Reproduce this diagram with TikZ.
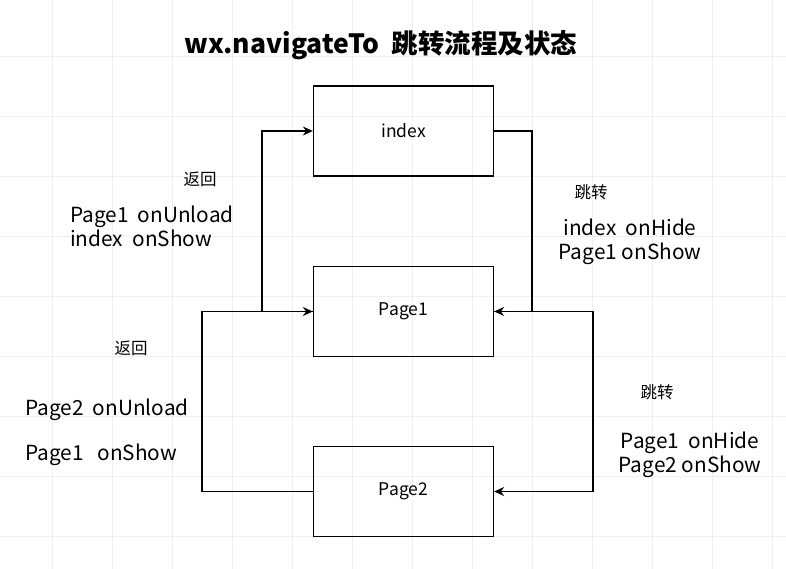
\documentclass[tikz,border=0pt]{standalone}
\usepackage{fontspec}
\setmainfont{Noto Sans CJK SC}
\usetikzlibrary{arrows.meta}
\tikzset{
  pagebox/.style={draw=black, line width=1.3pt, minimum width=180pt, minimum height=90pt, inner sep=0pt, font=\fontsize{17.5}{20}\selectfont},
  conn/.style={draw=black, line width=1.3pt, -{Stealth[length=10pt,width=9pt]}},
  biglabel/.style={inner sep=0pt, font=\fontsize{20.8}{24}\selectfont},
  smalllabel/.style={inner sep=0pt, font=\fontsize{16.5}{19}\selectfont},
  gridline/.style={draw=black!6, line width=0.8pt}
}
\begin{document}
\begin{tikzpicture}[x=1pt, y=-1pt]
\useasboundingbox (0,0) rectangle (786,569);
\fill[white] (0,0) rectangle (786,569);
\foreach \gx in {52,112,...,772} \draw[gridline] (\gx,0) -- (\gx,569);
\foreach \gy in {56,116,...,536} \draw[gridline] (0,\gy) -- (786,\gy);

\node[inner sep=0pt, font=\fontsize{26.5}{30}\selectfont\bfseries] (title) at (381,45) {wx.navigateTo\ \ 跳转流程及状态};

\node[pagebox] (index) at (403.5,131) {index};
\node[pagebox] (page1) at (403.5,311.5) {Page1};
\node[pagebox] (page2) at (403.5,491.5) {Page2};

\coordinate (l1) at (262,311.5);
\coordinate (l2) at (202,491.5);
\coordinate (r1) at (532,131);
\coordinate (r2) at (593,311.5);

\draw[conn] (page1.west) -- (l1) |- (index.west);
\draw[conn] (page2.west) -- (l2) |- (page1.west);
\draw[conn] (index.east) -- (r1) |- (page1.east);
\draw[conn] (page1.east) -- (r2) |- (page2.east);

\node[smalllabel] (back1) at (200,179) {返回};
\node[biglabel, anchor=west, align=left] (back1txt) at (70,226) {Page1\ \ onUnload\\index\ \ onShow};
\node[smalllabel] (back2) at (131,348) {返回};
\node[biglabel, anchor=west] (back2a) at (25,410) {Page2\ \ onUnload};
\node[biglabel, anchor=west] (back2b) at (25,455) {Page1\ \ \ onShow};
\node[smalllabel] (jump1) at (591,192) {跳转};
\node[biglabel, align=center] (jump1txt) at (630,241.5) {index\ \ onHide\\Page1 onShow};
\node[smalllabel] (jump2) at (657,392) {跳转};
\node[biglabel, align=center] (jump2txt) at (690,455) {Page1\ \ onHide\\Page2 onShow};
\end{tikzpicture}
\end{document}
